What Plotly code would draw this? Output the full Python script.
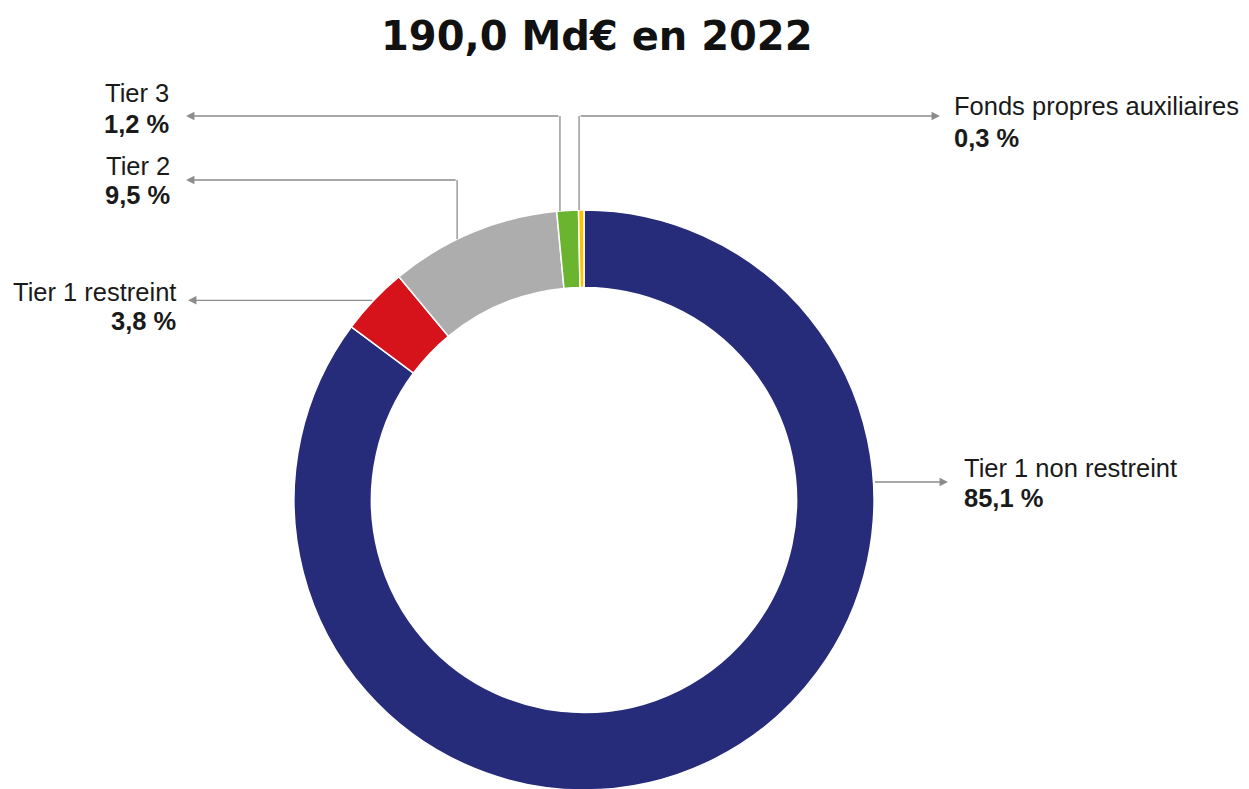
import math
import plotly.graph_objects as go

# ---- data ----
labels = ["Tier 1 non restreint", "Tier 1 restreint", "Tier 2", "Tier 3", "Fonds propres auxiliaires"]
values = [85.1, 3.8, 9.5, 1.2, 0.3]
value_text = ["85,1 %", "3,8 %", "9,5 %", "1,2 %", "0,3 %"]
colors = ["#262c7a", "#d6121b", "#adadad", "#6ab42f", "#f6c500"]
title_text = "190,0 Md€ en 2022"

# ---- layout geometry (screen pixels; page body has an 8px offset) ----
W, H = 1249, 789
OFF = 8
CX, CY, R = 584, 500, 290
HOLE = 0.733
LINE_COL = "#8c8c8c"
FONT = "Liberation Sans, Arial, sans-serif"
FS = 25.5
TXT = "#1a1a1a"

fx, fy = CX - OFF, CY - OFF  # centre in figure pixels

fig = go.Figure()
fig.add_trace(go.Pie(
    labels=labels, values=values, sort=False, direction="clockwise", rotation=0,
    hole=HOLE, textinfo="none", hoverinfo="label+percent",
    marker=dict(colors=colors, line=dict(color="white", width=1.5)),
    domain=dict(x=[(fx - R) / W, (fx + R) / W], y=[(H - fy - R) / H, (H - fy + R) / H]),
    showlegend=False,
))

# slice angles (degrees clockwise from 12 o'clock)
total = sum(values)
cum = 0
spans = []
for v in values:
    a0 = cum / total * 360
    cum += v
    a1 = cum / total * 360
    spans.append((a0, a1))

def pt(angle_deg, r=R):
    a = math.radians(angle_deg)
    return CX + r * math.sin(a), CY - r * math.cos(a)

def frac_angle(i, f):
    a0, a1 = spans[i]
    return a0 + (a1 - a0) * f

shapes = []
annotations = []

def arrow(x_head, y_head, x_tail, y_tail):
    annotations.append(dict(
        x=x_head, y=y_head, ax=x_tail, ay=y_tail, xref="x", yref="y", axref="x", ayref="y",
        text="", showarrow=True, arrowhead=2, arrowsize=1.3, arrowwidth=1.3, arrowcolor=LINE_COL,
    ))

def seg(x0, y0, x1, y1):
    shapes.append(dict(type="line", xref="x", yref="y", x0=x0, y0=y0, x1=x1, y1=y1,
                       line=dict(color=LINE_COL, width=1.3)))

def label(i, x, y_name, y_val, anchor):
    annotations.append(dict(
        x=x, y=y_name, xref="x", yref="y", xanchor=anchor, yanchor="middle",
        text=labels[i], showarrow=False, font=dict(family=FONT, size=FS, color=TXT),
    ))
    annotations.append(dict(
        x=x, y=y_val, xref="x", yref="y", xanchor=anchor, yanchor="middle",
        text=f"<b>{value_text[i]}</b>", showarrow=False, font=dict(family=FONT, size=FS, color=TXT),
    ))

# Tier 1 non restreint (right)
y0 = 482
xe = CX + math.sqrt(R ** 2 - (y0 - CY) ** 2)
arrow(948, y0, xe, y0)
label(0, 962, 468, 498, "left")

# Tier 1 restreint (left, horizontal from slice middle)
px, py = pt(frac_angle(1, 0.5))
arrow(188, py, px, py)
label(1, 178, 292, 321, "right")

# Tier 2 (left, vertical then horizontal)
px, py = pt(frac_angle(2, 0.4))
seg(px, py, px, 180)
arrow(186, 180, px, 180)
label(2, 172, 166, 195, "right")

# Tier 3
px, py = pt(frac_angle(3, 0.15))
seg(px, py, px, 116)
arrow(186, 116, px, 116)
label(3, 171, 93, 124, "right")

# Fonds propres auxiliaires (right)
px, py = pt(frac_angle(4, 0.1))
seg(px, py, px, 116)
arrow(940, 116, px, 116)
label(4, 952, 106, 138, "left")

# title
annotations.append(dict(
    x=597, y=36, xref="x", yref="y", xanchor="center", yanchor="middle",
    text=f"<b>{title_text}</b>", showarrow=False,
    font=dict(family="DejaVu Sans, sans-serif", size=40, color="#111111"),
))

fig.update_layout(
    width=W, height=H, margin=dict(l=0, r=0, t=0, b=0),
    paper_bgcolor="white", plot_bgcolor="rgba(0,0,0,0)",
    xaxis=dict(range=[OFF, W + OFF], visible=False, fixedrange=True, domain=[0, 1]),
    yaxis=dict(range=[H + OFF, OFF], visible=False, fixedrange=True, domain=[0, 1]),
    shapes=shapes, annotations=annotations,
)

fig.write_html("out.html")
